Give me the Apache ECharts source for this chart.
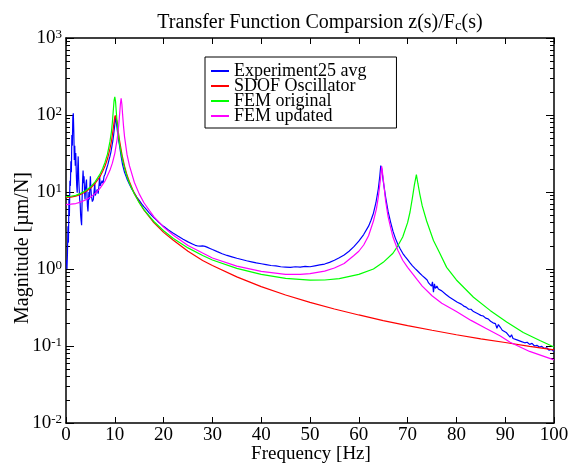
<!DOCTYPE html>
<html><head><meta charset="utf-8">
<script src="https://cdn.jsdelivr.net/npm/echarts@6/dist/echarts.min.js"></script>
<style>html,body{margin:0;padding:0;background:#fff}#c{width:578px;height:466px}</style>
</head><body><div id="c"></div>
<script>
// ---- data (frequency [Hz], magnitude [um/N]) ----
const experiment = [[0.1,1.3],[0.2,1.0],[0.3,1.6],[0.4,3.6],[0.5,2.2],[0.6,8],[0.7,5],[0.8,14],[0.9,12],[1.0,25],[1.1,18],[1.2,55],[1.3,40],[1.4,95],[1.5,105],[1.6,60],[1.7,26],[1.8,40],[1.9,22],[2.0,32],[2.1,18],[2.2,12],[2.3,9.8],[2.4,20],[2.5,29],[2.6,15],[2.7,11],[2.8,8],[2.9,7.2],[3.0,5],[3.1,4.2],[3.2,3.7],[3.3,8],[3.4,14],[3.5,19],[3.6,13],[3.7,16],[3.8,10],[3.9,8],[4.0,11],[4.1,13],[4.2,14.5],[4.3,9],[4.4,6.5],[4.5,5.6],[4.6,7.5],[4.7,10],[4.8,8],[4.9,12],[5.0,16],[5.1,11],[5.2,9],[5.4,7.5],[5.6,8],[5.8,11],[5.9,13],[6.0,9],[6.2,8.5],[6.4,10.8],[6.6,9.5],[6.8,13],[6.9,16],[7.0,12],[7.2,11.5],[7.4,14],[7.6,13],[7.8,16],[8.0,17],[8.2,19],[8.4,20],[8.6,23],[8.8,26],[9.0,29],[9.2,33],[9.4,39],[9.6,46],[9.8,58],[10.0,75],[10.1,96],[10.2,90],[10.4,72],[10.6,57],[10.8,46],[11.0,39],[11.3,29],[11.6,22.5],[12.0,18],[12.5,14.8],[13.0,12.6],[13.5,10.9],[14.0,9.7],[14.5,8.6],[15,7.8],[15.5,7.0],[16,6.4],[16.5,5.9],[17,5.4],[17.5,5.0],[18,4.65],[18.5,4.35],[19,4.05],[19.5,3.8],[20,3.58],[21,3.22],[22,2.92],[23,2.66],[24,2.44],[25,2.25],[26,2.1],[26.5,2.03],[27,1.99],[27.5,1.98],[28,2.0],[28.5,1.97],[29,1.91],[29.5,1.85],[30,1.79],[31,1.68],[32,1.58],[33,1.5],[34,1.44],[35,1.38],[36,1.33],[37,1.28],[38,1.24],[39,1.2],[40,1.17],[41,1.14],[42,1.11],[43,1.1],[44,1.07],[45,1.06],[46,1.05],[47,1.07],[48,1.06],[49,1.08],[50,1.07],[51,1.1],[52,1.13],[53,1.16],[54,1.22],[55,1.3],[56,1.4],[57,1.52],[58,1.7],[59,1.95],[60,2.3],[61,2.8],[62,3.6],[62.5,4.3],[63,5.3],[63.5,7.2],[64,11],[64.3,16],[64.5,22],[64.7,20],[65,14],[65.5,8.5],[66,5.6],[66.5,4.1],[67,3.1],[67.5,2.5],[68,2.1],[68.5,1.82],[69,1.6],[69.5,1.45],[70,1.32],[70.5,1.2],[71,1.1],[71.5,1.02],[72,0.95],[72.5,0.88],[73,0.82],[73.5,0.77],[74,0.72],[74.3,0.66],[74.6,0.7],[74.9,0.6],[75.1,0.68],[75.3,0.5],[75.5,0.64],[75.7,0.56],[76,0.6],[76.3,0.55],[76.6,0.57],[77,0.52],[77.4,0.5],[77.8,0.47],[78.2,0.46],[78.6,0.43],[79,0.42],[79.4,0.4],[79.8,0.39],[80.2,0.37],[80.6,0.36],[81,0.35],[81.5,0.33],[82,0.32],[82.5,0.3],[83,0.3],[83.5,0.28],[84,0.27],[84.5,0.26],[85,0.25],[85.5,0.245],[86,0.23],[86.5,0.225],[87,0.21],[87.5,0.2],[88,0.195],[88.3,0.17],[88.6,0.19],[89,0.175],[89.4,0.16],[89.8,0.168],[90.2,0.15],[90.6,0.145],[91,0.13],[91.3,0.14],[91.6,0.125],[92,0.13],[92.4,0.12],[92.8,0.125],[93.2,0.115],[93.6,0.12],[94,0.11],[94.5,0.112],[95,0.105],[95.5,0.108],[96,0.1],[96.5,0.102],[97,0.097],[97.5,0.099],[98,0.093],[98.5,0.095],[99,0.088],[99.5,0.09],[100,0.085]];

const sdofOscillator = [[0,8.5],[1,8.6],[2,8.84],[3,9.3],[4,10.05],[5,11.2],[6,13.0],[7,16.0],[7.5,18.5],[8,21.8],[8.5,27],[9,36.3],[9.3,45],[9.5,55],[9.7,68],[9.9,85],[10,93],[10.1,99],[10.2,101],[10.3,98],[10.5,81],[10.7,62],[11,45.6],[11.5,30],[12,21.6],[12.5,16.6],[13,13.6],[14,9.6],[15,7.4],[16,5.8],[18,4.0],[20,2.99],[22,2.36],[25,1.70],[28,1.29],[30,1.11],[35,0.79],[40,0.59],[45,0.46],[50,0.369],[55,0.302],[60,0.253],[65,0.214],[70,0.184],[75,0.16],[80,0.140],[85,0.124],[90,0.111],[95,0.099],[100,0.089]];

const femOriginal = [[0,8.7],[1,8.8],[2,9.04],[3,9.6],[4,10.36],[5,11.6],[6,13.65],[7,17.2],[7.5,20],[8,24.4],[8.5,31],[9,45],[9.3,60],[9.5,80],[9.7,116],[9.85,154],[10,172],[10.15,150],[10.3,111],[10.5,77],[10.75,54],[11,40.8],[11.5,27.6],[12,20.3],[12.5,15.9],[13,13.0],[14,9.4],[15,7.26],[16,5.85],[18,4.14],[20,3.14],[22,2.49],[25,1.88],[28,1.5],[30,1.31],[35,1.02],[40,0.85],[45,0.755],[50,0.715],[53,0.72],[56,0.75],[60,0.85],[63,1.0],[65,1.22],[67,1.6],[68,2.0],[69,2.6],[70,4.0],[70.5,5.5],[71,8.5],[71.4,12.5],[71.8,16.8],[72.1,13],[72.5,9.4],[73,6.6],[73.9,4.2],[75.3,2.35],[76.6,1.6],[78,1.05],[80,0.72],[83.5,0.43],[86.9,0.29],[90.3,0.205],[93.7,0.15],[97.1,0.118],[100,0.097]];

const femUpdated = [[0,6.85],[1,6.95],[2,7.08],[3,7.4],[4,7.86],[5,8.56],[6,9.6],[7,11.2],[8,13.9],[9,19.1],[9.5,23.7],[10,31.8],[10.5,49.5],[10.8,73],[11,105],[11.15,140],[11.3,165],[11.45,138],[11.6,101],[11.8,70],[12,52],[12.5,30.8],[13,22],[14,13.4],[15,9.45],[16,7.2],[18,4.8],[20,3.5],[22,2.75],[25,2.02],[28,1.61],[30,1.39],[35,1.09],[40,0.93],[45,0.85],[48,0.85],[50,0.87],[53,0.94],[55,1.03],[57,1.18],[59,1.5],[60,1.7],[61,2.05],[62,2.7],[63,4.2],[63.6,6],[64,8.6],[64.4,14],[64.7,21.5],[65,15],[65.5,7.6],[66,4.8],[66.5,3.5],[67,2.6],[68,1.75],[69,1.3],[70,1.05],[72,0.72],[73,0.6],[75,0.45],[77,0.36],[80,0.28],[83,0.215],[86,0.17],[89,0.135],[91,0.112],[95,0.085],[100,0.066]];

const seriesNames = ['Experiment25 avg','SDOF Oscillator','FEM original','FEM updated'];
const seriesColors = ['#0000ff','#ff0000','#00ff00','#ff00ff'];
const yMajorTicks = [0.01,0.1,1,10,100,1000];
const yMinorTicks = [0.02,0.03,0.04,0.05,0.06,0.07,0.08,0.09,0.2,0.3,0.4,0.5,0.6,0.7,0.8,0.9,2,3,4,5,6,7,8,9,20,30,40,50,60,70,80,90,200,300,400,500,600,700,800,900];

const serif = '"Liberation Serif", "Times New Roman", serif';
const chart = echarts.init(document.getElementById('c'), null, {renderer:'canvas'});

function yLabel(v){
  const e = Math.round(Math.log10(v));
  return '{b|10}{s|' + e + '}';
}
const black = {color:'#000', width:1.5};
function yAx(pos, ticks, len, labels){
  return {
    type:'log', logBase:10, min:0.01, max:1000, position:pos,
    axisLine:{show:labels, lineStyle:black, onZero:false},
    axisTick:{show:true, inside:true, length:len, customValues:ticks, lineStyle:{color:'#000', width:1}},
    axisLabel:{show:labels && pos==='left', customValues:yMajorTicks, formatter:yLabel, margin:4,
      rich:{b:{fontFamily:serif, fontSize:19, color:'#000', lineHeight:20},
            s:{fontFamily:serif, fontSize:13, color:'#000', verticalAlign:'top', lineHeight:14}}},
    splitLine:{show:false}, minorTick:{show:false}
  };
}

const option = {
  animation:false,
  backgroundColor:'#fff',
  title:{
    text:'{t|Transfer Function Comparsion z(s)/F}{sub|c}{t|(s)}',
    left:315, top:7, textAlign:'center',
    textStyle:{fontWeight:'normal', rich:{
      t:{fontFamily:serif, fontSize:20, fontWeight:'normal', color:'#000', lineHeight:22},
      sub:{fontFamily:serif, fontSize:15, fontWeight:'normal', color:'#000', verticalAlign:'bottom', lineHeight:14}
    }}
  },
  legend:{
    data:seriesNames, orient:'vertical', left:205, top:57,
    backgroundColor:'#fff', borderColor:'#000', borderWidth:1,
    padding:[5,30,3,6], itemGap:-3, itemWidth:18, itemHeight:2, icon:'rect',
    textStyle:{fontFamily:serif, fontSize:18, color:'#000', lineHeight:15, padding:[0,0,0,0]}
  },
  grid:{left:66, right:24, top:38, bottom:43, containLabel:false},
  xAxis:[
    {type:'value', min:0, max:100, interval:10, position:'bottom',
     axisLine:{lineStyle:black, onZero:false},
     axisTick:{inside:true, length:6, lineStyle:{color:'#000', width:1}},
     axisLabel:{fontFamily:serif, fontSize:19, color:'#000', margin:3},
     splitLine:{show:false}},
    {type:'value', min:0, max:100, interval:10, position:'top',
     axisLine:{lineStyle:black, onZero:false},
     axisTick:{inside:true, length:6, lineStyle:{color:'#000', width:1}},
     axisLabel:{show:false}, splitLine:{show:false}}
  ],
  yAxis:[
    yAx('left', yMajorTicks, 8, true),
    yAx('left', yMinorTicks, 4, false),
    yAx('right', yMajorTicks, 8, true),
    yAx('right', yMinorTicks, 4, false)
  ],
  graphic:[
    {type:'text', x:311, y:454, style:{text:'Frequency [Hz]', font:'19px ' + serif, fill:'#000', align:'center', verticalAlign:'middle', textAlign:'center', textVerticalAlign:'middle'}},
    {type:'text', x:23, y:248, rotation:Math.PI/2, style:{text:'Magnitude [\u00b5m/N]', font:'20px ' + serif, fill:'#000', align:'center', verticalAlign:'middle', textAlign:'center', textVerticalAlign:'middle'}}
  ],
  series:[experiment, sdofOscillator, femOriginal, femUpdated].map((d,i)=>({
    name:seriesNames[i], type:'line', data:d, xAxisIndex:0, yAxisIndex:0,
    showSymbol:false, symbol:'none', smooth:false,
    lineStyle:{color:seriesColors[i], width:1.2}, itemStyle:{color:seriesColors[i]},
    emphasis:{disabled:true}
  }))
};
chart.setOption(option);
</script></body></html>
